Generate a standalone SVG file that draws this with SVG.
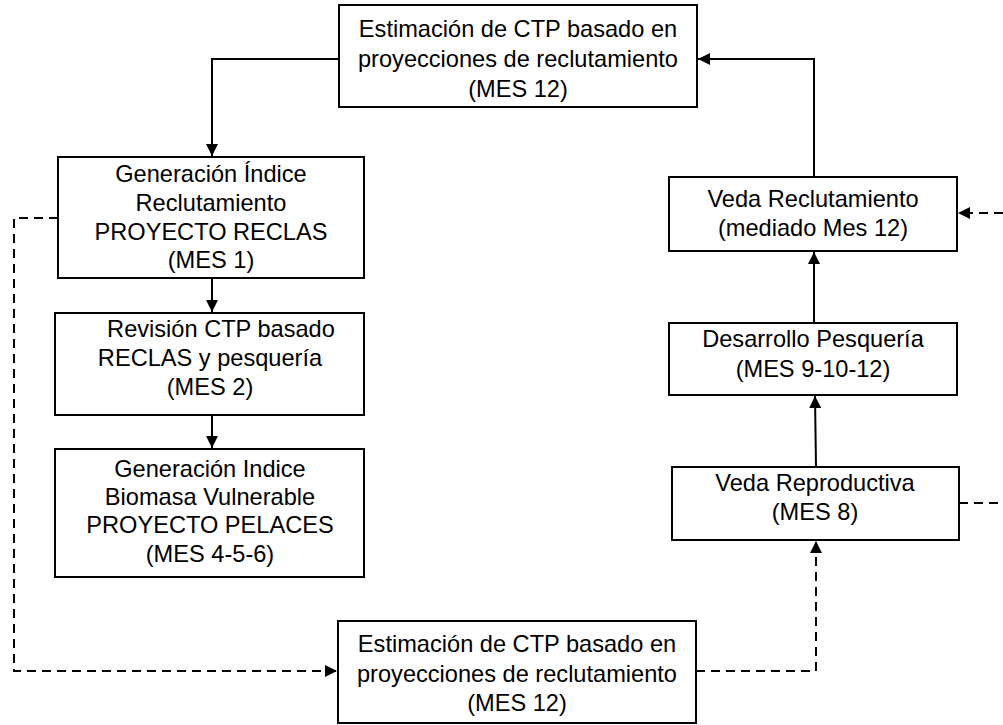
<svg xmlns="http://www.w3.org/2000/svg" width="1003" height="725" viewBox="0 0 1003 725">
<style>
.box{fill:#fff;stroke:#000;stroke-width:2}
.t{font-family:"Liberation Sans",Arial,sans-serif;font-size:23.6px;fill:#000;text-anchor:middle}
.c{fill:none;stroke:#000;stroke-width:2}
.d{stroke-dasharray:9 6}
</style>
<defs>
<marker id="ah" markerUnits="userSpaceOnUse" markerWidth="13" markerHeight="12" refX="12" refY="6" orient="auto">
<path d="M0,0 L12,6 L0,12 z" fill="#000"/>
</marker>
</defs>
<rect width="1003" height="725" fill="#fff"/>
<g id="connectors">
<polyline class="c" points="339,59 212,59 212,156" marker-end="url(#ah)"/>
<line class="c" x1="212" y1="278" x2="212" y2="312" marker-end="url(#ah)"/>
<line class="c" x1="212" y1="415" x2="212" y2="448" marker-end="url(#ah)"/>
<polyline class="c" points="814,177 814,59 698,59" marker-end="url(#ah)"/>
<line class="c" x1="814" y1="323" x2="814" y2="252" marker-end="url(#ah)"/>
<line class="c" x1="816" y1="467" x2="815" y2="396" marker-end="url(#ah)"/>
<polyline class="c d" points="58,218 14,218 14,671 337,671" marker-end="url(#ah)"/>
<polyline class="c d" points="696,671 816,671 816,541" marker-end="url(#ah)"/>
<line class="c d" x1="959" y1="503" x2="1003" y2="503"/>
<line class="c d" x1="1003" y1="213" x2="958" y2="213" marker-end="url(#ah)"/>
</g>
<g id="n_top">
<rect class="box" x="339" y="5" width="358" height="102"/>
<text class="t" x="518" y="37">Estimación de CTP basado en</text>
<text class="t" x="518" y="67">proyecciones de reclutamiento</text>
<text class="t" x="518" y="97">(MES 12)</text>
</g>
<g id="n_reclas">
<rect class="box" x="58" y="157" width="306" height="121"/>
<text class="t" x="211" y="182">Generación Índice</text>
<text class="t" x="211" y="211">Reclutamiento</text>
<text class="t" x="211" y="240">PROYECTO RECLAS</text>
<text class="t" x="211" y="268">(MES 1)</text>
</g>
<g id="n_revision">
<rect class="box" x="55" y="313" width="309" height="102"/>
<text class="t" x="221" y="337">Revisión CTP basado</text>
<text class="t" x="210" y="366">RECLAS y pesquería</text>
<text class="t" x="210" y="395">(MES 2)</text>
</g>
<g id="n_pelaces">
<rect class="box" x="55" y="449" width="309" height="128"/>
<text class="t" x="210" y="477">Generación Indice</text>
<text class="t" x="210" y="505">Biomasa Vulnerable</text>
<text class="t" x="210" y="533">PROYECTO PELACES</text>
<text class="t" x="210" y="562">(MES 4-5-6)</text>
</g>
<g id="n_vedarecl">
<rect class="box" x="669" y="177" width="288" height="74"/>
<text class="t" x="813" y="207">Veda Reclutamiento</text>
<text class="t" x="813" y="236">(mediado Mes 12)</text>
</g>
<g id="n_desarrollo">
<rect class="box" x="669" y="323" width="288" height="72"/>
<text class="t" x="813" y="347">Desarrollo Pesquería</text>
<text class="t" x="813" y="377">(MES 9-10-12)</text>
</g>
<g id="n_vedarepro">
<rect class="box" x="672" y="467" width="287" height="73"/>
<text class="t" x="815" y="491">Veda Reproductiva</text>
<text class="t" x="815" y="520">(MES 8)</text>
</g>
<g id="n_bottom">
<rect class="box" x="338" y="621" width="358" height="102"/>
<text class="t" x="517" y="652">Estimación de CTP basado en</text>
<text class="t" x="517" y="682">proyecciones de reclutamiento</text>
<text class="t" x="517" y="711">(MES 12)</text>
</g>
</svg>
